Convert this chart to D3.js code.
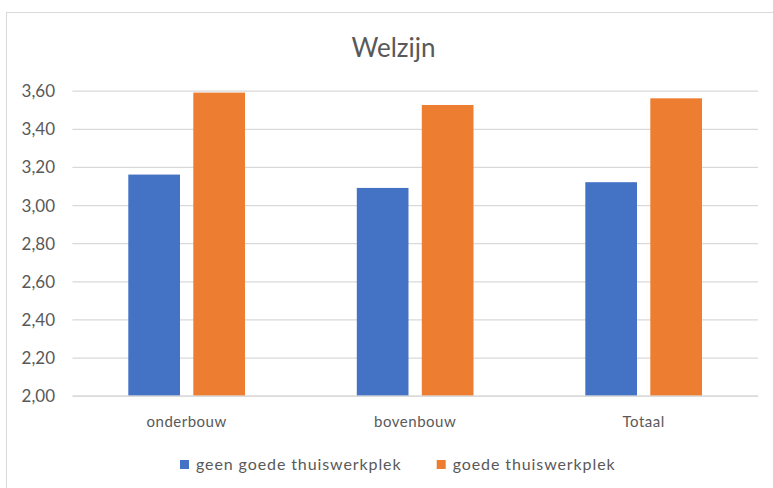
<!DOCTYPE html>
<html>
<head>
<meta charset="utf-8">
<script src="https://cdn.jsdelivr.net/npm/d3@7"></script>
<style>
  html, body { margin: 0; padding: 0; background: #fff; }
  svg { display: block; }
  text { font-family: Lato, "Open Sans", sans-serif; fill: #595959; }
</style>
</head>
<body>
<svg id="chart" width="773" height="488"></svg>
<script>
const categories = ["onderbouw", "bovenbouw", "Totaal"];
const seriesNames = ["geen goede thuiswerkplek", "goede thuiswerkplek"];
const geenGoede = [3.16, 3.09, 3.12];
const goede = [3.59, 3.525, 3.56];
const yTicks = [2.0, 2.2, 2.4, 2.6, 2.8, 3.0, 3.2, 3.4, 3.6];
const colors = ["#4472C4", "#ED7D31"];

const seriesValues = [geenGoede, goede];
const svg = d3.select("#chart");

// chart border
svg.append("rect")
  .attr("x", 6.5).attr("y", 12.5)
  .attr("width", 800).attr("height", 500)
  .attr("fill", "#fff").attr("stroke", "#D9D9D9").attr("stroke-width", 1);

const x0 = d3.scaleBand().domain(categories).range([72.4, 757.9]).paddingInner(0).paddingOuter(0);
const x1 = d3.scaleBand().domain(d3.range(seriesNames.length)).range([0, x0.bandwidth()])
  .paddingInner(0.2046).paddingOuter(0.86);
const y = d3.scaleLinear().domain([2.0, 3.6]).range([395.7, 90.7]);

const fmt = v => d3.format(".2f")(v).replace(".", ",");

// gridlines
const yAxis = d3.axisLeft(y).tickValues(yTicks).tickSize(-(757.9 - 72.4)).tickFormat(fmt).tickPadding(17.4);
const gy = svg.append("g").attr("transform", "translate(72.4,0)").call(yAxis);
gy.select(".domain").remove();
gy.selectAll(".tick line").attr("stroke", "#D9D9D9").attr("stroke-width", 1.3);
gy.selectAll(".tick text").attr("font-size", 17).attr("fill", "#595959")
  .attr("dy", "0.35em").style("font-family", "Lato, sans-serif");

// bars
const groups = svg.append("g").selectAll("g").data(categories).join("g")
  .attr("transform", d => `translate(${x0(d)},0)`);
groups.selectAll("rect").data((d, i) => seriesValues.map((s, k) => ({k, v: s[i]}))).join("rect")
  .attr("x", d => x1(d.k))
  .attr("width", x1.bandwidth())
  .attr("y", d => y(d.v))
  .attr("height", d => y(2.0) - y(d.v))
  .attr("fill", d => colors[d.k]);

// x axis
const xAxis = d3.axisBottom(x0).tickSize(0);
const gx = svg.append("g").attr("transform", "translate(0,395.7)").call(xAxis);
gx.select(".domain").attr("stroke", "#D9D9D9").attr("stroke-width", 1.3);
gx.selectAll(".tick text").attr("font-size", 15).attr("fill", "#595959")
  .attr("dy", null).attr("y", 31).style("letter-spacing", "0.5px").style("font-family", "Lato, sans-serif");

// title
svg.append("text").attr("x", 393.5).attr("y", 57.3).attr("text-anchor", "middle")
  .attr("font-size", 26).text("Welzijn");

// legend
const legendX = [180, 436.7];
const lg = svg.append("g").selectAll("g").data(seriesNames).join("g")
  .attr("transform", (d, i) => `translate(${legendX[i]},460)`);
lg.append("rect").attr("width", 9).attr("height", 9).attr("fill", (d, i) => colors[i]);
lg.append("text").attr("x", 16).attr("y", 9.5).attr("font-size", 16)
  .style("letter-spacing", "0.9px").text(d => d);
</script>
</body>
</html>
